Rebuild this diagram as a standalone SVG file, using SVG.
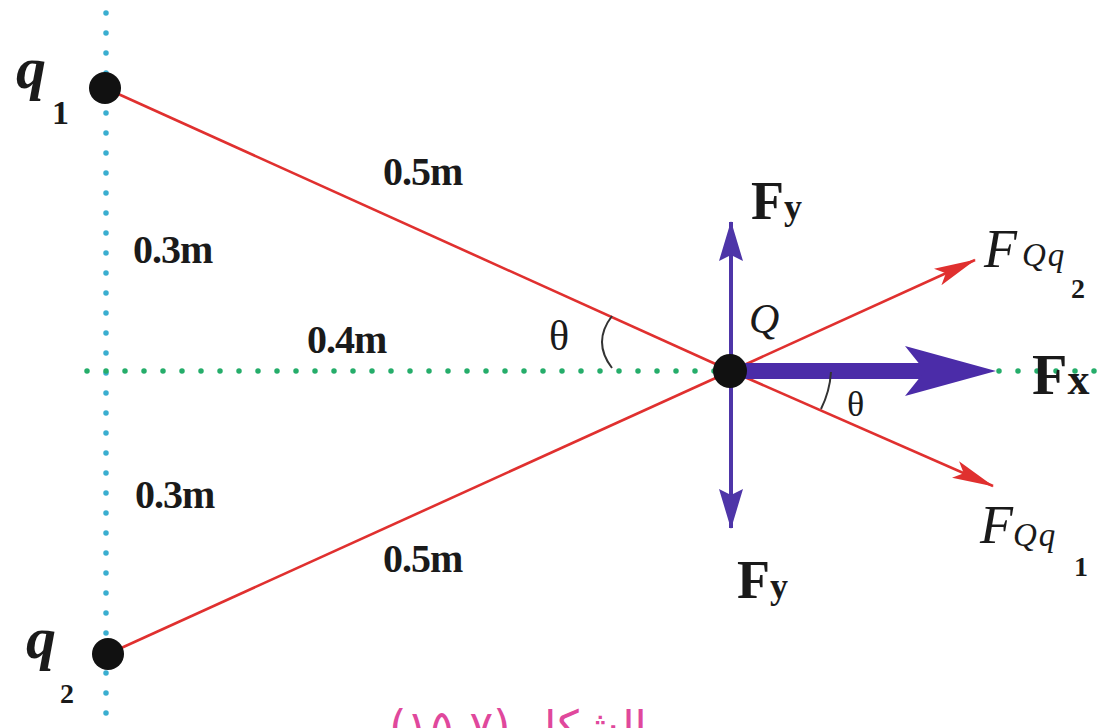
<svg xmlns="http://www.w3.org/2000/svg" width="1103" height="728" viewBox="0 0 1103 728">
<style>
.b{font-family:"Liberation Serif","Times New Roman",serif;font-weight:bold;fill:#1a1a1a}
.i{font-family:"Liberation Serif","Times New Roman",serif;font-style:italic;fill:#1a1a1a}
.n{font-family:"Liberation Serif","Times New Roman",serif;fill:#1a1a1a}
.red{stroke:#e0302f;stroke-width:2.6;fill:none}
.pur{stroke:#4e35a8;stroke-width:4;fill:none}
.arc{stroke:#333;stroke-width:2;fill:none}
.dot{fill:#111}
</style>
<defs>
<marker id="rh" markerUnits="userSpaceOnUse" markerWidth="42" markerHeight="20" viewBox="0 0 42 20" refX="41" refY="10" orient="auto"><path d="M0,1 L42,10 L0,19 L9,10z" fill="#e0302f"/></marker>
<marker id="ph" markerUnits="userSpaceOnUse" markerWidth="40" markerHeight="26" viewBox="0 0 40 26" refX="39" refY="13" orient="auto"><path d="M0,1 L40,13 L0,25 L6,13z" fill="#4e35a8"/></marker>
</defs>
<rect width="1103" height="728" fill="#fff"/>
<g id="axes">
<line x1="106" y1="13" x2="106" y2="728" stroke="#3aaed0" stroke-width="5.5" stroke-linecap="round" stroke-dasharray="0 20"/>
<line x1="87" y1="371" x2="1103" y2="371" stroke="#25ad6a" stroke-width="5.5" stroke-linecap="round" stroke-dasharray="0 19"/>
</g>
<g id="connectors">
<path class="red" d="M105,88 L731,371"/>
<path class="red" d="M108,654 L731,371"/>
<path class="red" d="M731,371 L993,486" marker-end="url(#rh)"/>
<path class="red" d="M731,371 L975,260" marker-end="url(#rh)"/>
<path class="pur" d="M731,371 L731,222" marker-end="url(#ph)"/>
<path class="pur" d="M731,371 L731,528" marker-end="url(#ph)"/>
<rect x="740" y="363" width="186" height="16" fill="#4b2ca8"/>
<polygon points="905,346 996,371 905,396 925,371" fill="#4b2ca8"/>
<path class="arc" d="M612,316 Q592,342 612,368"/>
<path class="arc" d="M831,372 A96,96 0 0 1 821,409"/>
</g>
<g id="q1">
<circle class="dot" cx="105" cy="88" r="16"/>
<text class="b" x="16" y="88" font-size="60" font-style="italic">q</text>
<text class="b" x="52" y="124" font-size="34">1</text>
</g>
<g id="q2">
<circle class="dot" cx="108" cy="654" r="16"/>
<text class="b" x="26" y="658" font-size="60" font-style="italic">q</text>
<text class="b" x="60" y="703" font-size="28">2</text>
</g>
<g id="Q">
<circle class="dot" cx="730" cy="371" r="17"/>
<text class="i" x="749" y="333" font-size="42">Q</text>
</g>
<g id="labels">
<text class="b" x="383" y="185" font-size="40" letter-spacing="-1">0.5m</text>
<text class="b" x="133" y="263" font-size="40" letter-spacing="-1">0.3m</text>
<text class="b" x="307" y="353" font-size="40" letter-spacing="-1">0.4m</text>
<text class="b" x="135" y="508" font-size="40" letter-spacing="-1">0.3m</text>
<text class="b" x="383" y="572" font-size="40" letter-spacing="-1">0.5m</text>
<text class="n" x="549" y="350" font-size="42">θ</text>
<text class="n" x="847" y="416" font-size="36">θ</text>
</g>
<g id="Fy-top"><text class="b" x="751" y="219" font-size="54">F<tspan font-size="36">y</tspan></text></g>
<g id="Fy-bottom"><text class="b" x="737" y="598" font-size="54">F<tspan font-size="36">y</tspan></text></g>
<g id="Fx"><text class="b" x="1032" y="394" font-size="58">F<tspan font-size="44">x</tspan></text></g>
<g id="FQq2">
<text class="i" x="984" y="267" font-size="54">F</text>
<text class="i" x="1022" y="266" font-size="33" letter-spacing="2">Qq</text>
<text class="b" x="1071" y="298" font-size="28">2</text>
</g>
<g id="FQq1">
<text class="i" x="980" y="543" font-size="54">F</text>
<text class="i" x="1013" y="546" font-size="33" letter-spacing="2">Qq</text>
<text class="b" x="1074" y="576" font-size="28">1</text>
</g>
<g id="caption">
<text x="518" y="742" font-size="44" fill="#e0489c" font-family="DejaVu Sans, sans-serif" text-anchor="middle" direction="rtl">الشكل (٧-١٥)</text>
</g>
</svg>
